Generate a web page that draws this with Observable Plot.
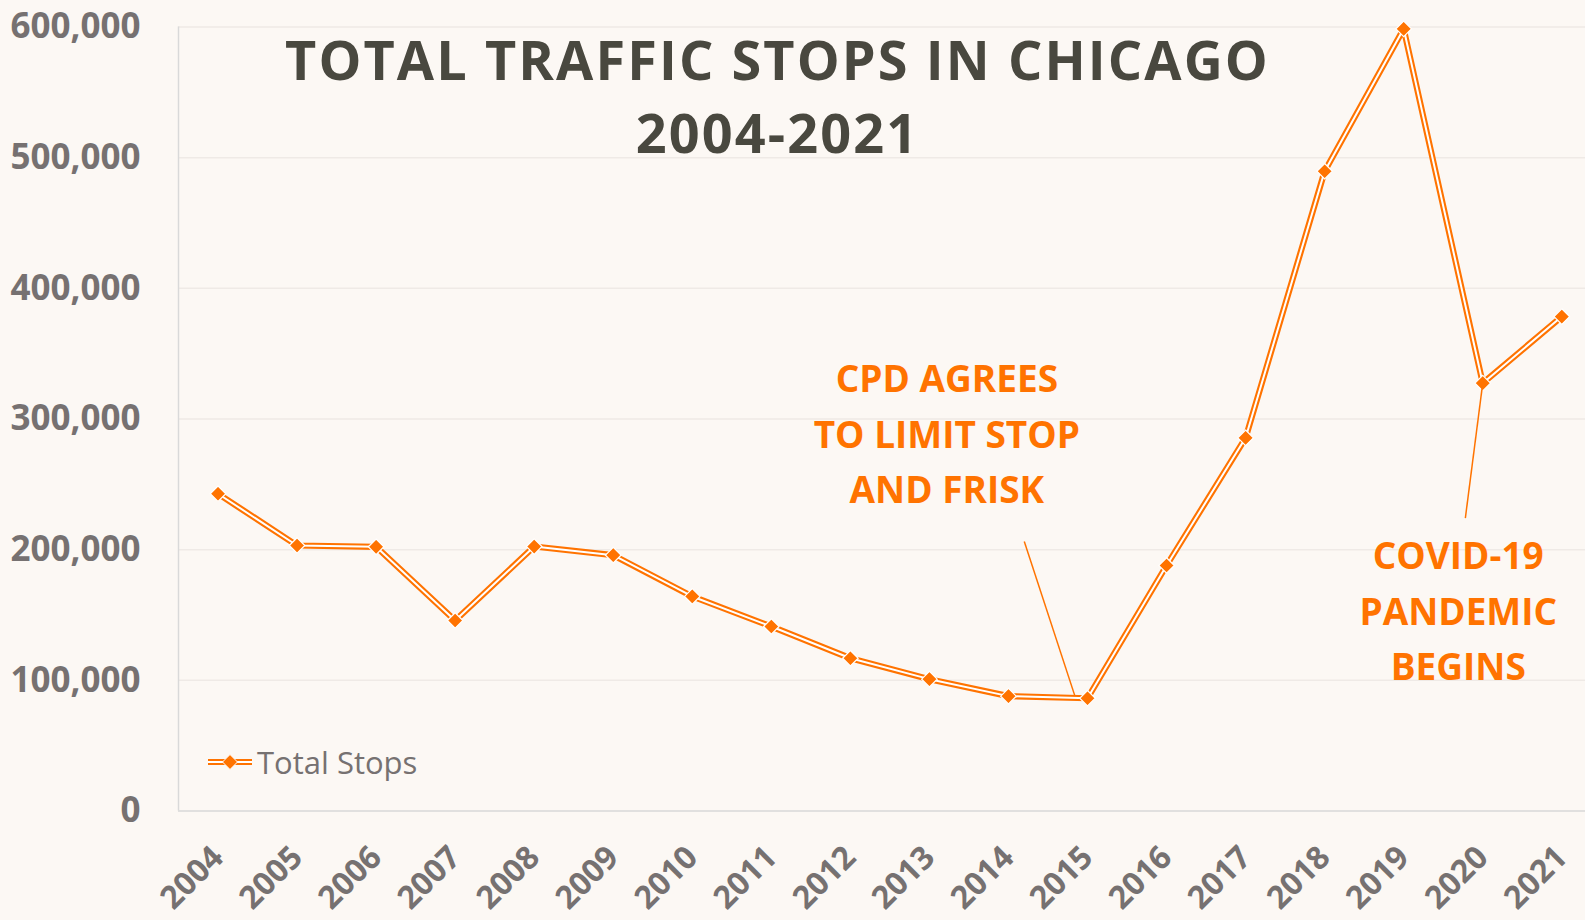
<!DOCTYPE html>
<html><head><meta charset="utf-8">
<script src="https://cdn.jsdelivr.net/npm/d3@7"></script>
<script src="https://cdn.jsdelivr.net/npm/@observablehq/plot@0.6"></script>
<style>
html,body{margin:0;padding:0;background:#FCF8F4;}
#wrap{position:relative;width:1585px;height:920px;overflow:hidden;}
#legend{position:absolute;left:207px;top:741px;font-family:"Open Sans",sans-serif;font-size:31px;color:#767171;display:flex;align-items:center;white-space:nowrap;}
#legend svg{margin-right:4px;}
</style></head><body><div id="wrap"></div>
<script>
const years = [2004,2005,2006,2007,2008,2009,2010,2011,2012,2013,2014,2015,2016,2017,2018,2019,2020,2021];
const totalStops = [242800,203200,202200,145800,202400,195800,164200,141200,116900,100900,87900,86300,187900,285600,489600,598600,327400,378400];
const yTicks = [0,100000,200000,300000,400000,500000,600000];
const titleText = "TOTAL TRAFFIC STOPS IN CHICAGO\n2004-2021";
const seriesName = "Total Stops";
const noteCPD = "CPD AGREES\nTO LIMIT STOP\nAND FRISK";
const noteCovid = "COVID-19\nPANDEMIC\nBEGINS";

const ORANGE = "#FF7300";
const data = years.map((year, i) => ({year, value: totalStops[i]}));
const pt = y => data.find(d => d.year === y);

const chart = Plot.plot({
  width: 1585,
  height: 920,
  marginLeft: 178,
  marginRight: 0,
  marginTop: 26.5,
  marginBottom: 109.5,
  style: {background: "#FCF8F4", fontFamily: "'Open Sans', sans-serif", color: "#767171", overflow: "visible"},
  x: {type: "linear", domain: [2003.5, 2021.3]},
  y: {domain: [0, 600000]},
  marks: [
    Plot.gridY({ticks: yTicks.slice(1), stroke: "#EFEAE6", strokeOpacity: 1, strokeWidth: 1.5}),
    Plot.ruleY([0], {stroke: "#D9D9D9", strokeWidth: 1.5}),
    Plot.ruleX([2003.5], {y1: 0, y2: 600000, stroke: "#D9D9D9", strokeWidth: 1.5}),
    Plot.axisY({ticks: yTicks, tickSize: 0, tickPadding: 38, tickFormat: d3.format(","), fontSize: 35, fontWeight: 700, label: null}),
    Plot.axisX({ticks: years, tickFormat: d => String(d), tickSize: 0, tickPadding: 41, tickRotate: -45, fontSize: 32, fontWeight: 700, label: null}),
    Plot.line(data, {x: "year", y: "value", stroke: ORANGE, strokeWidth: 6.2}),
    Plot.line(data, {x: "year", y: "value", stroke: "#FFFFFF", strokeWidth: 2}),
    Plot.dot(data, {x: "year", y: "value", symbol: "diamond2", r: 7, fill: ORANGE, stroke: "#FFFFFF", strokeWidth: 1.2}),
    Plot.link([pt(2015)], {x1: 2014.2, y1: 206200, x2: 2014.84, y2: 88100, stroke: ORANGE, strokeWidth: 1.5}),
    Plot.link([pt(2020)], {x1: 2019.78, y1: 224200, x2: "year", y2: "value", stroke: ORANGE, strokeWidth: 1.5}),
    Plot.text([noteCPD], {x: 2013.22, y: 291600, text: d => d, fontSize: 37, fontWeight: 700, fill: ORANGE, lineHeight: 1.5, lineAnchor: "middle", textAnchor: "middle"}),
    Plot.text([noteCovid], {x: 2019.69, y: 156200, text: d => d, fontSize: 37, fontWeight: 700, fill: ORANGE, lineHeight: 1.5, lineAnchor: "middle", textAnchor: "middle"}),
    Plot.text([titleText], {frameAnchor: "top", text: d => d, dx: -104.5, dy: 1, fontSize: 54, fontWeight: 700, fill: "#49483F", lineHeight: 1.352})
  ]
});
chart.querySelectorAll("text").forEach(t => {
  if (t.textContent.startsWith("TOTAL")) {
    t.style.letterSpacing = "2.1px";
    t.querySelectorAll("tspan").forEach(s => s.style.letterSpacing = "2.1px");
  }
});
const wrap = document.getElementById("wrap");
wrap.appendChild(chart);

const legend = document.createElement("div");
legend.id = "legend";
legend.innerHTML = `<svg width="46" height="18" viewBox="0 0 46 18">
  <line x1="1" x2="45" y1="9" y2="9" stroke="${ORANGE}" stroke-width="6"/>
  <line x1="1" x2="45" y1="9" y2="9" stroke="#FFFFFF" stroke-width="2"/>
  <path d="M23 1.5 L30.5 9 L23 16.5 L15.5 9 Z" fill="${ORANGE}" stroke="#FFFFFF" stroke-width="1"/>
</svg><span>${seriesName}</span>`;
wrap.appendChild(legend);
</script>
</body></html>
